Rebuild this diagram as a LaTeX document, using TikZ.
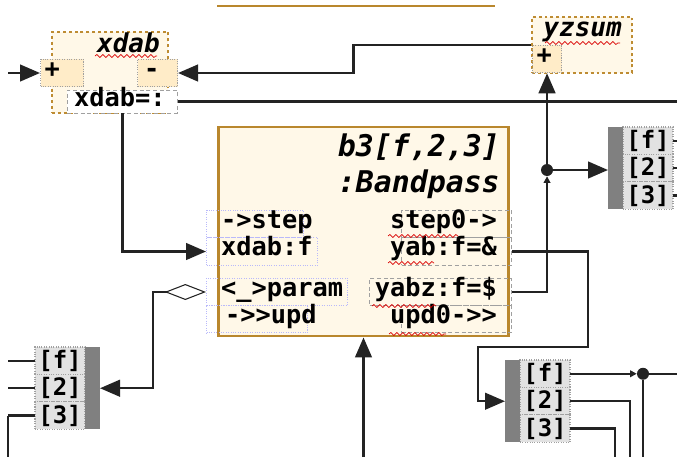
\documentclass[tikz,border=0pt]{standalone}
\usepackage{fontspec}
\setmonofont{DejaVu Sans Mono}
\usetikzlibrary{arrows.meta,positioning,calc,decorations.pathmorphing}

\definecolor{blockline}{RGB}{185,135,45}
\definecolor{blockfill}{RGB}{255,248,232}
\definecolor{dotline}{RGB}{190,140,50}
\definecolor{portfill}{RGB}{255,236,200}
\definecolor{portblue}{RGB}{185,185,250}
\definecolor{portgray}{RGB}{160,160,160}
\definecolor{wirecol}{RGB}{35,35,35}
\definecolor{cellfill}{RGB}{226,226,226}
\definecolor{barfill}{RGB}{128,128,128}

\newcommand{\leftlab}[3]{\makebox[#1][l]{\hspace*{#2}#3}}
\newcommand{\rightlab}[3]{\makebox[#1][r]{#3\hspace*{#2}}}

\begin{document}
\begin{tikzpicture}[x=0.75pt, y=-0.75pt,
		% Style definitions
		block/.style={rectangle, draw=blockline, fill=blockfill, line width=2.2pt,
			minimum width=218pt, minimum height=156.75pt, inner sep=0pt},
		sumbox/.style={rectangle, draw=dotline, fill=blockfill, line width=2.2pt,
			dash pattern=on 2.2pt off 2.2pt, inner sep=0pt},
		blocktitle/.style={font=\ttfamily\bfseries\itshape\fontsize{22.4pt}{27pt}\selectfont,
			align=right, inner sep=0pt},
		sumtitle/.style={font=\ttfamily\bfseries\itshape\fontsize{19.5pt}{22pt}\selectfont,
			inner sep=0pt},
		port/.style={rectangle, font=\ttfamily\bfseries\fontsize{19pt}{21pt}\selectfont,
			inner sep=0pt, minimum height=20.6pt, text height=12pt, text depth=6pt},
		lport/.style={port, draw=portblue, densely dotted, line width=0.8pt},
		rport/.style={port, draw=portgray, densely dashed, line width=0.6pt},
		pin/.style={port, draw=portgray, densely dotted, line width=0.8pt, fill=portfill},
		outport/.style={port, draw=portgray, densely dashed, line width=0.6pt, fill=white,
			minimum height=17.25pt, text height=11.5pt, text depth=4.5pt},
		cell/.style={rectangle, draw=portgray, densely dotted, line width=0.8pt, fill=cellfill,
			minimum width=37.5pt, minimum height=20.6pt, inner sep=0pt, outer sep=0pt,
			font=\ttfamily\bfseries\fontsize{18pt}{20pt}\selectfont},
		bar/.style={rectangle, fill=barfill, minimum width=11.25pt, minimum height=61.8pt,
			inner sep=0pt, outer sep=0pt},
		junction/.style={circle, fill=wirecol, inner sep=0pt, minimum size=9pt},
		wire/.style={draw=wirecol, line width=1.8pt},
		smalltip/.style={-{Triangle[length=5pt,width=5pt]}},
		squig/.style={draw=red!85!black, line width=0.5pt, decorate,
			decoration={snake, amplitude=1.1pt, segment length=4.5pt}},
		>={Triangle[length=15pt,width=12.5pt]},
		node distance=0pt
		]
		\useasboundingbox (0,0) rectangle (677,457);
		
		% Edge of the block above
		\draw[blockline, line width=1.5pt] (217,6) -- (495,6);
		
		% Bandpass block
		\node[block] (bp) at (363.5,231.5) {};
		\node[blocktitle, anchor=north east] (bptitle) at (500,134) {b3[f,2,3]\\:Bandpass};
		\node[lport, anchor=west] (pstep) at (206,224) {\leftlab{72.75pt}{11pt}{->step}};
		\node[lport, anchor=west] (pxdab) at (206,251.5) {\leftlab{83.25pt}{11pt}{xdab:f}};
		\node[lport, anchor=west] (pparam) at (206,292) {\leftlab{105.75pt}{11pt}{<\_>param}};
		\node[lport, anchor=west] (pupd) at (206,319) {\leftlab{75.75pt}{14pt}{->>upd}};
		\node[rport, anchor=east] (pstepo) at (512,224) {\rightlab{82.5pt}{11pt}{step0->}};
		\node[rport, anchor=east] (pyab) at (512,251.5) {\rightlab{82.5pt}{11pt}{yab:f=\&}};
		\node[rport, anchor=east] (pyabz) at (512,292) {\rightlab{106.5pt}{11pt}{yabz:f=\$}};
		\node[rport, anchor=east] (pupdo) at (512,319) {\rightlab{82.5pt}{11pt}{upd0->>}};
		
		% xdab and yzsum
		\node[sumbox, minimum width=87pt, minimum height=60.75pt] (xdab) at (110,72.5) {};
		\node[sumtitle, anchor=base east] (xdabtitle) at (160,52) {xdab};
		\node[pin, anchor=west] (xplus) at (40,73) {\leftlab{32.25pt}{3pt}{+}};
		\node[pin, anchor=west] (xminus) at (137,73) {\leftlab{30pt}{5pt}{-}};
		\node[outport, anchor=west] (xout) at (67,101.5) {\leftlab{82.5pt}{5pt}{xdab=:}};
		
		\node[sumbox, minimum width=75pt, minimum height=42pt] (yzsum) at (582,45) {};
		\node[sumtitle, anchor=base east] (yzsumtitle) at (622,36) {yzsum};
		\node[pin, anchor=west] (yplus) at (532,59) {\leftlab{21.75pt}{3pt}{+}};
		
		% Arrays
		\node[cell] (trf) at (648,140.75) {[f]};
		\node[cell, below=of trf] (tr2) {[2]};
		\node[cell, below=of tr2] (tr3) {[3]};
		\node[bar, anchor=north east] (trbar) at (trf.north west) {};
		
		\node[cell] (brf) at (545,373.75) {[f]};
		\node[cell, below=of brf] (br2) {[2]};
		\node[cell, below=of br2] (br3) {[3]};
		\node[bar, anchor=north east] (brbar) at (brf.north west) {};
		
		\node[cell] (blf) at (60,360.75) {[f]};
		\node[cell, below=of blf] (bl2) {[2]};
		\node[cell, below=of bl2] (bl3) {[3]};
		\node[bar, anchor=north west] (blbar) at (blf.north east) {};
		
		% Free ends
		\coordinate (ledge) at (8,0);
		\coordinate (redge) at (677,0);
		\coordinate (bot) at (0,457);
		\coordinate (inplus) at (8,73);
		\coordinate (yabturn) at (588,347);
		\coordinate (out2) at (630,457);
		\coordinate (out3) at (615,457);
		
		% Connections
		\draw[wire, ->] (inplus) -- (xplus.west);
		\draw[wire, ->] (yzsum.west) -- ++(-177,0) |- (xminus.east);
		\draw[wire] (xout.east) -- (xout.east -| redge);
		\draw[wire, ->] (xout.south) |- (pxdab.west);
		\draw[wire, {Diamond[open,length=31pt,width=12pt,line width=0.8pt]}->] (pparam.west) -- ++(-53,0) |- (blbar.east);
		
		\node[junction] (j1) at (yplus.south |- 0,170) {};
		\draw[wire, smalltip] (pyabz.east) -| (j1);
		\draw[wire, ->] (j1) -- (yplus.south);
		\draw[wire, ->] (j1) -- (j1 -| trbar.west);
		\draw[wire, ->] (pyab.east) -| (yabturn) -| ($(brbar.west)+(-27,0)$) -- (brbar.west);
		\draw[wire, ->] (bp.south |- bot) -- (bp.south);
		
		\draw[wire] (trf.east) -- (trf.east -| redge);
		\draw[wire] (tr2.east) -- (tr2.east -| redge);
		\draw[wire] (tr3.east) -- (tr3.east -| redge);
		
		\node[junction] (j2) at (brf.east -| 643,0) {};
		\draw[wire, smalltip] (brf.east) -- (j2);
		\draw[wire] (j2) -- (j2 -| redge);
		\draw[wire] (j2) -- (j2 |- bot);
		\draw[wire] (br2.east) -| (out2);
		\draw[wire] (br3.east) -| (out3);
		
		\draw[wire] (ledge |- blf.west) -- (blf.west);
		\draw[wire] (ledge |- bl2.west) -- (bl2.west);
		\draw[wire] (ledge |- bl3.west) -- (bl3.west);
		\draw[wire, line width=0.8pt] (ledge |- bl3.west) -- (ledge |- bot);
		
		% Spell-check marks
		\draw[squig] (95,56) -- (157,56);
		\draw[squig] (545,43) -- (620,43);
		\draw[squig] (388,236) -- (458,236);
		\draw[squig] (388,263) -- (434,263);
		\draw[squig] (372,306) -- (436,306);
		\draw[squig] (389,334) -- (446,334);
		
	\end{tikzpicture}
\end{document}
